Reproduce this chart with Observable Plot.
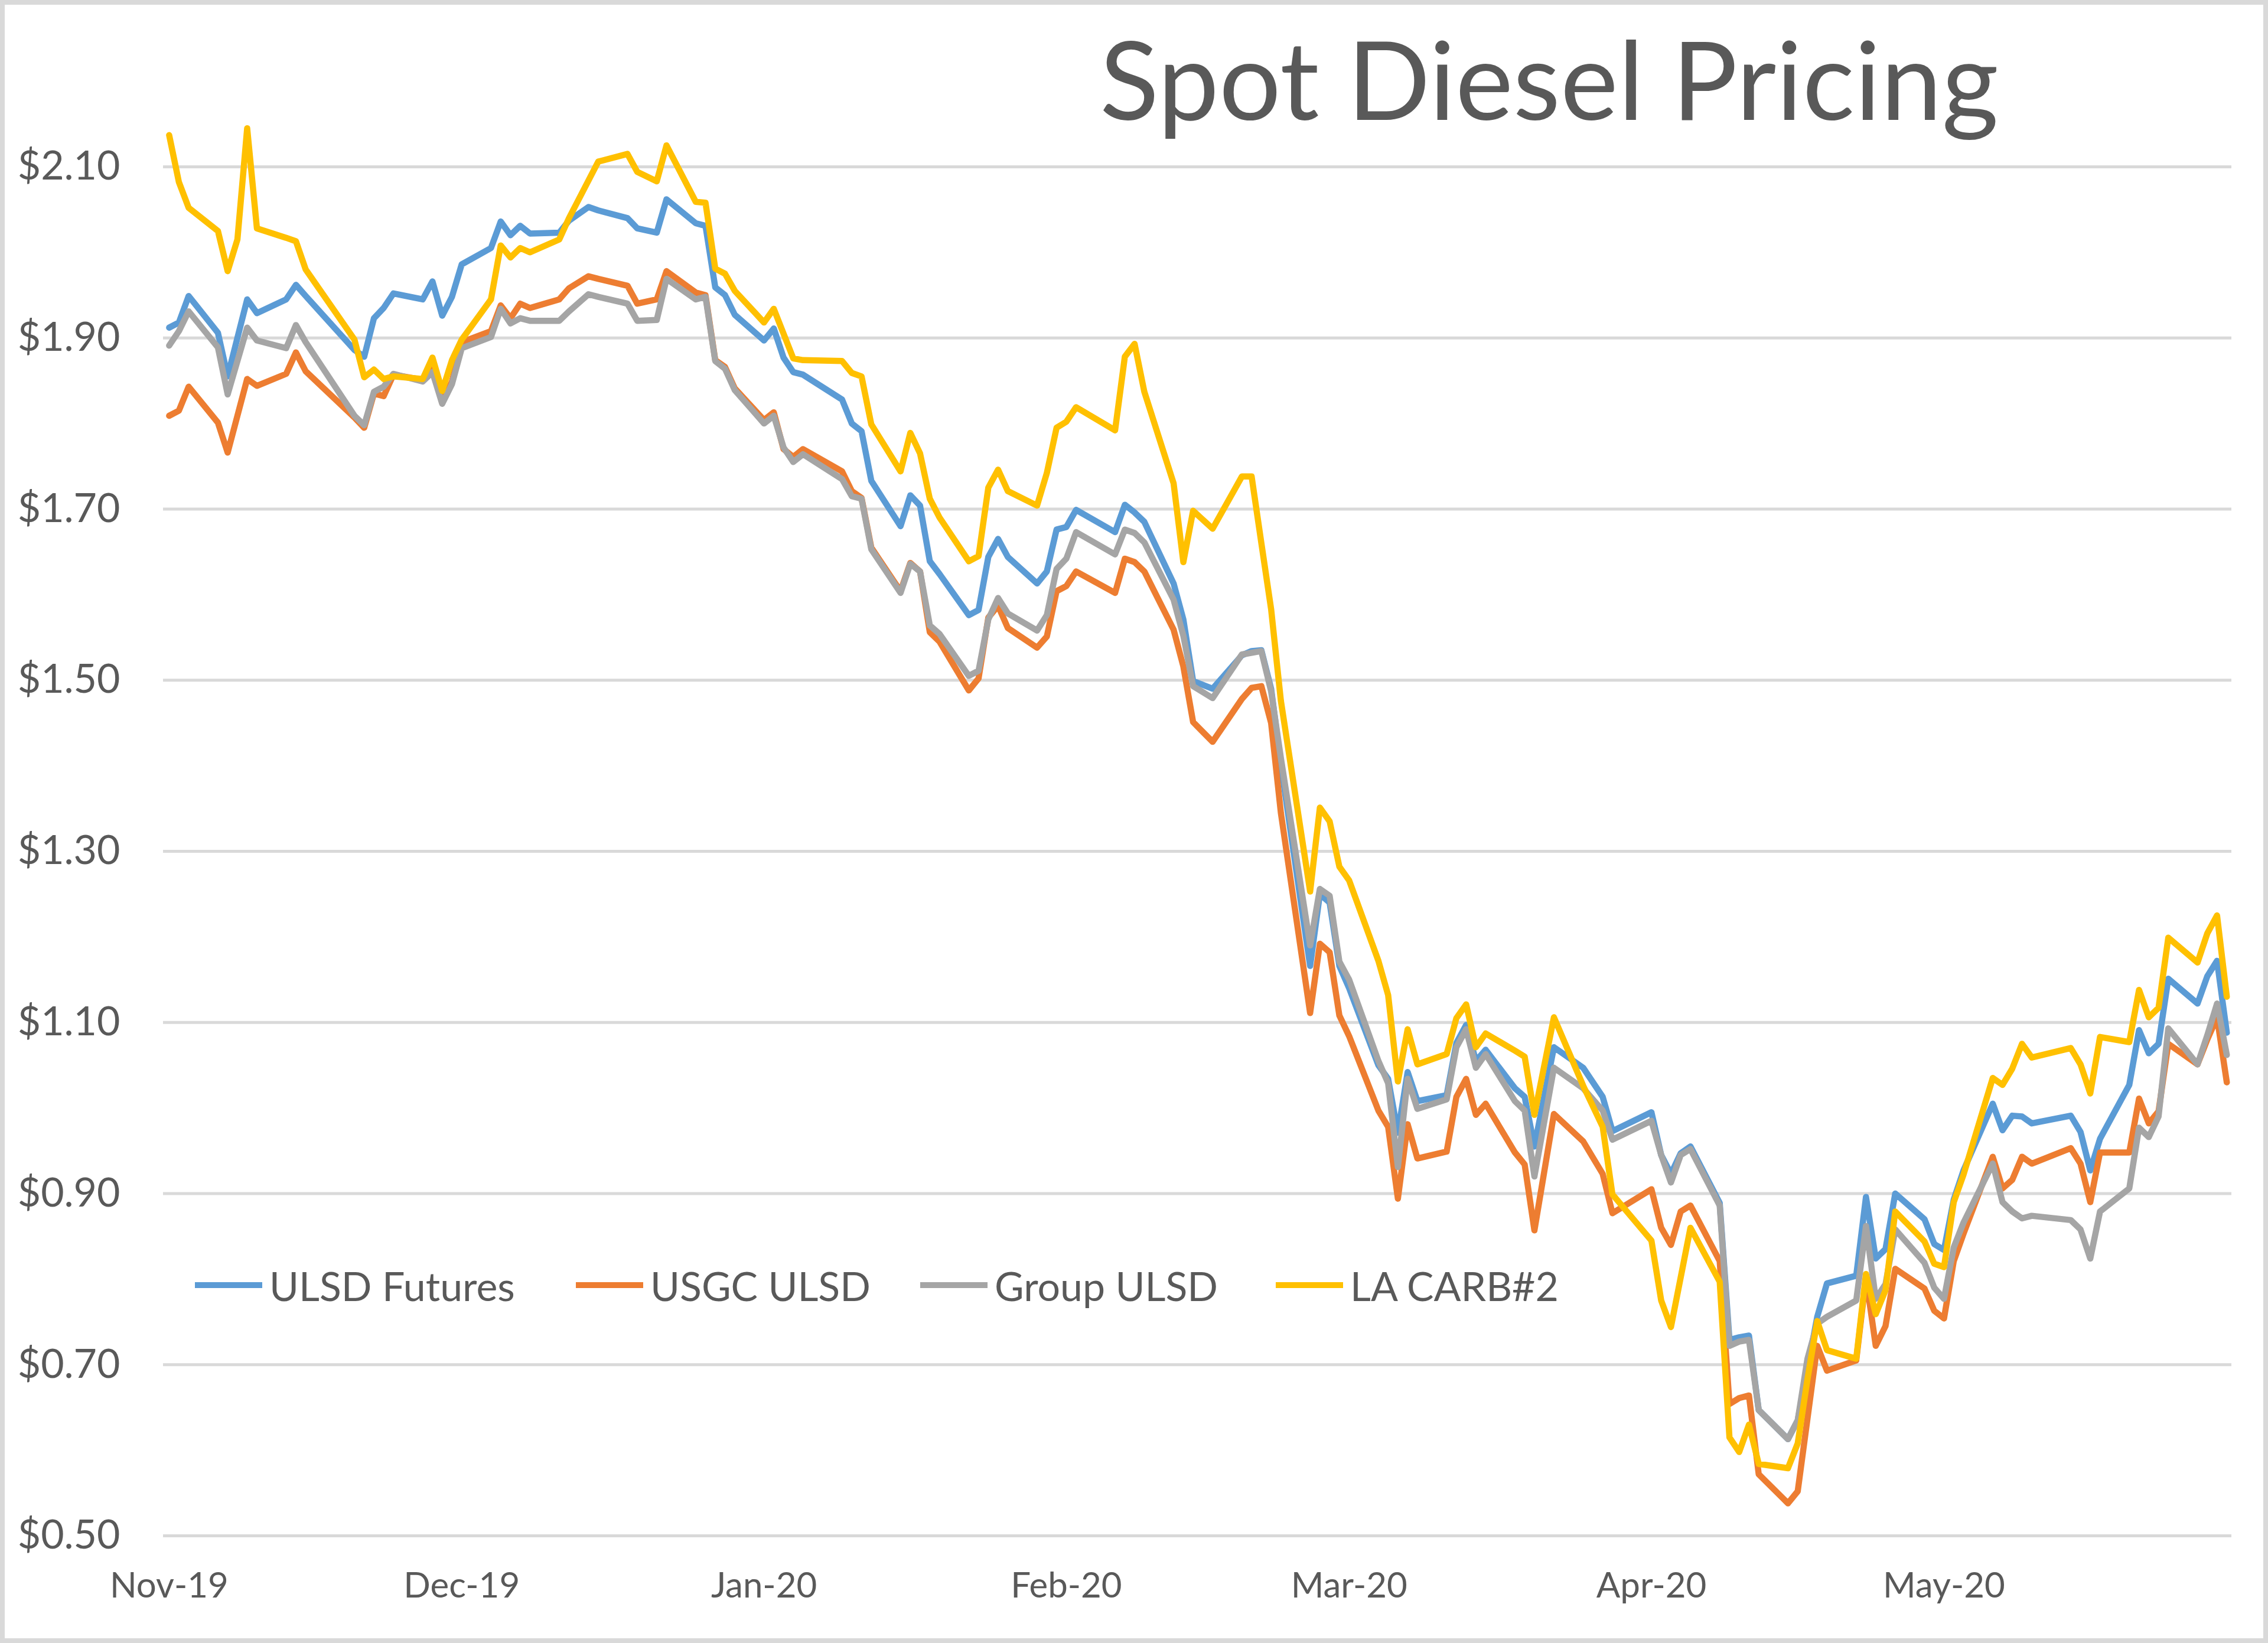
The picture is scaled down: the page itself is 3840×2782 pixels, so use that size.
<!DOCTYPE html>
<html>
<head>
<meta charset="utf-8">
<script src="https://cdn.jsdelivr.net/npm/d3@7"></script>
<script src="https://cdn.jsdelivr.net/npm/@observablehq/plot@0.6"></script>
<style>
  html, body { margin: 0; padding: 0; background: #ffffff; }
  #chart { position: relative; width: 3840px; height: 2782px; overflow: hidden; background: #ffffff; font-family: Lato, "Open Sans", sans-serif; }
  #plot { position: absolute; left: 0; top: 0; }
  #frame { position: absolute; left: 0; top: 0; width: 3840px; height: 2782px; box-sizing: border-box; border: 8px solid #d9d9d9; pointer-events: none; }
  #title { position: absolute; left: 1862px; top: 39px; font-size: 185px; line-height: 185px; color: #595959; white-space: nowrap; }
  .leg { position: absolute; top: 2136px; height: 80px; display: flex; align-items: center; font-size: 68px; color: #595959; white-space: nowrap; }
  .sw { display: inline-block; width: 114px; height: 10px; margin-right: 12px; }
</style>
</head>
<body>
<div id="chart">
  <div id="plot"></div>
  <div id="title">Spot Diesel Pricing</div>
  <div id="legend"></div>
  <div id="frame"></div>
</div>
<script>
// ---- data ----
const dates = [
  "2019-11-01","2019-11-02","2019-11-03","2019-11-06","2019-11-07","2019-11-08","2019-11-09","2019-11-10","2019-11-13","2019-11-14",
  "2019-11-15","2019-11-20","2019-11-21","2019-11-22","2019-11-23","2019-11-24","2019-11-27","2019-11-28","2019-11-29","2019-11-30",
  "2019-12-01","2019-12-04","2019-12-05","2019-12-06","2019-12-07","2019-12-08","2019-12-11","2019-12-12","2019-12-14","2019-12-15",
  "2019-12-18","2019-12-19","2019-12-21","2019-12-22","2019-12-25","2019-12-26","2019-12-27","2019-12-28","2019-12-29","2020-01-01",
  "2020-01-02","2020-01-03","2020-01-04","2020-01-05","2020-01-09","2020-01-10","2020-01-11","2020-01-12","2020-01-15","2020-01-16",
  "2020-01-17","2020-01-18","2020-01-19","2020-01-22","2020-01-23","2020-01-24","2020-01-25","2020-01-26","2020-01-29","2020-01-30",
  "2020-01-31","2020-02-01","2020-02-02","2020-02-06","2020-02-07","2020-02-08","2020-02-09","2020-02-12","2020-02-13","2020-02-14",
  "2020-02-16","2020-02-19","2020-02-20","2020-02-21","2020-02-22","2020-02-23","2020-02-26","2020-02-27","2020-02-28","2020-02-29",
  "2020-03-01","2020-03-04","2020-03-05","2020-03-06","2020-03-07","2020-03-08","2020-03-11","2020-03-12","2020-03-13","2020-03-14",
  "2020-03-15","2020-03-18","2020-03-19","2020-03-20","2020-03-22","2020-03-25","2020-03-27","2020-03-28","2020-04-01","2020-04-02",
  "2020-04-03","2020-04-04","2020-04-05","2020-04-08","2020-04-09","2020-04-10","2020-04-11","2020-04-12","2020-04-15","2020-04-16",
  "2020-04-17","2020-04-18","2020-04-19","2020-04-22","2020-04-23","2020-04-24","2020-04-25","2020-04-26","2020-04-29","2020-04-30",
  "2020-05-01","2020-05-02","2020-05-03","2020-05-06","2020-05-07","2020-05-08","2020-05-09","2020-05-10","2020-05-14","2020-05-15",
  "2020-05-16","2020-05-17","2020-05-20","2020-05-21","2020-05-22","2020-05-23","2020-05-24","2020-05-27","2020-05-28","2020-05-29",
  "2020-05-30"
];

const ulsdFutures = [
  1.912,1.918,1.949,1.906,1.855,1.900,1.945,1.929,1.945,1.962,
  1.949,1.886,1.878,1.923,1.935,1.952,1.945,1.966,1.926,1.948,
  1.986,2.005,2.036,2.020,2.031,2.022,2.023,2.037,2.053,2.049,
  2.040,2.028,2.023,2.062,2.034,2.031,1.959,1.950,1.927,1.897,
  1.911,1.877,1.860,1.857,1.828,1.800,1.791,1.733,1.680,1.716,
  1.704,1.639,1.624,1.576,1.582,1.644,1.665,1.644,1.613,1.627,
  1.676,1.679,1.699,1.673,1.705,1.696,1.685,1.613,1.571,1.499,
  1.490,1.529,1.534,1.535,1.490,1.402,1.166,1.250,1.240,1.166,
  1.140,1.050,1.034,0.971,1.042,1.008,1.015,1.076,1.097,1.055,
  1.068,1.023,1.013,0.955,1.071,1.047,1.013,0.973,0.995,0.945,
  0.923,0.947,0.955,0.889,0.729,0.732,0.734,0.647,0.613,0.635,
  0.695,0.756,0.795,0.804,0.896,0.824,0.835,0.900,0.870,0.841,
  0.834,0.893,0.927,1.005,0.974,0.991,0.990,0.982,0.991,0.972,
  0.927,0.964,1.027,1.091,1.064,1.075,1.151,1.122,1.154,1.172,
  1.088
];

const usgcUlsd = [
  1.809,1.815,1.843,1.801,1.766,1.809,1.852,1.844,1.858,1.883,
  1.861,1.807,1.795,1.835,1.832,1.857,1.851,1.863,1.824,1.849,
  1.895,1.908,1.938,1.923,1.940,1.935,1.945,1.958,1.972,1.969,
  1.961,1.940,1.945,1.978,1.953,1.950,1.874,1.866,1.841,1.804,
  1.813,1.770,1.761,1.770,1.744,1.721,1.713,1.655,1.604,1.637,
  1.627,1.556,1.545,1.488,1.502,1.573,1.587,1.561,1.538,1.551,
  1.604,1.610,1.627,1.602,1.642,1.638,1.627,1.559,1.516,1.451,
  1.428,1.478,1.491,1.493,1.450,1.345,1.111,1.192,1.182,1.108,
  1.084,0.997,0.978,0.894,0.981,0.941,0.949,1.013,1.034,0.992,
  1.005,0.948,0.934,0.857,0.993,0.961,0.923,0.877,0.905,0.860,
  0.840,0.879,0.886,0.821,0.654,0.661,0.664,0.572,0.538,0.552,
  0.637,0.722,0.693,0.705,0.802,0.722,0.745,0.812,0.789,0.763,
  0.754,0.821,0.853,0.943,0.906,0.916,0.943,0.935,0.953,0.935,
  0.890,0.948,0.948,1.011,0.982,0.996,1.075,1.051,1.080,1.106,
  1.030
];

const groupUlsd = [
  1.891,1.908,1.931,1.889,1.834,1.873,1.912,1.897,1.888,1.915,
  1.895,1.809,1.798,1.837,1.843,1.858,1.849,1.860,1.823,1.846,
  1.888,1.901,1.934,1.917,1.923,1.920,1.920,1.931,1.951,1.948,
  1.940,1.920,1.921,1.969,1.945,1.948,1.873,1.864,1.839,1.800,
  1.809,1.772,1.755,1.764,1.735,1.715,1.712,1.653,1.602,1.636,
  1.627,1.564,1.554,1.505,1.511,1.571,1.596,1.578,1.558,1.576,
  1.630,1.642,1.673,1.647,1.676,1.672,1.661,1.594,1.552,1.493,
  1.479,1.530,1.532,1.534,1.487,1.409,1.190,1.256,1.248,1.171,
  1.150,1.055,1.029,0.931,1.034,0.999,1.010,1.071,1.092,1.047,
  1.063,1.008,0.997,0.920,1.047,1.023,0.997,0.963,0.985,0.945,
  0.913,0.945,0.952,0.886,0.722,0.727,0.729,0.647,0.613,0.635,
  0.707,0.748,0.756,0.775,0.862,0.777,0.794,0.858,0.819,0.790,
  0.777,0.837,0.866,0.935,0.890,0.879,0.871,0.874,0.869,0.858,
  0.824,0.879,0.906,0.977,0.966,0.990,1.093,1.051,1.085,1.122,
  1.062
];

const laCarb2 = [
  2.137,2.082,2.052,2.025,1.978,2.015,2.145,2.028,2.017,2.013,
  1.980,1.898,1.854,1.863,1.852,1.855,1.852,1.877,1.838,1.874,
  1.898,1.945,2.008,1.994,2.005,2.000,2.015,2.040,2.084,2.106,
  2.115,2.094,2.083,2.125,2.059,2.058,1.981,1.975,1.955,1.918,
  1.934,1.905,1.876,1.874,1.873,1.859,1.855,1.799,1.744,1.789,
  1.765,1.712,1.690,1.639,1.645,1.725,1.746,1.721,1.704,1.742,
  1.795,1.802,1.819,1.792,1.878,1.893,1.837,1.730,1.638,1.698,
  1.677,1.738,1.738,1.660,1.583,1.476,1.253,1.351,1.335,1.282,
  1.266,1.172,1.132,1.031,1.092,1.051,1.063,1.105,1.121,1.071,
  1.087,1.067,1.060,0.992,1.106,1.026,0.978,0.899,0.845,0.775,
  0.744,0.802,0.860,0.797,0.615,0.598,0.630,0.584,0.579,0.608,
  0.683,0.751,0.717,0.707,0.806,0.759,0.787,0.879,0.844,0.818,
  0.814,0.890,0.922,1.035,1.027,1.046,1.075,1.059,1.070,1.051,
  1.017,1.083,1.077,1.138,1.106,1.117,1.199,1.170,1.204,1.225,
  1.130
];

const seriesNames = ["ULSD Futures", "USGC ULSD", "Group ULSD", "LA CARB#2"];
const seriesColors = ["#5B9BD5", "#ED7D31", "#A5A5A5", "#FFC000"];
const yTicks = [0.5, 0.7, 0.9, 1.1, 1.3, 1.5, 1.7, 1.9, 2.1];
const xTickDates = ["2019-11-01", "2019-12-01", "2020-01-01", "2020-02-01", "2020-03-01", "2020-04-01", "2020-05-01"];
const xTickLabels = ["Nov-19", "Dec-19", "Jan-20", "Feb-20", "Mar-20", "Apr-20", "May-20"];

// ---- build ----
const parse = d3.utcParse("%Y-%m-%d");
const seriesValues = [ulsdFutures, usgcUlsd, groupUlsd, laCarb2];
const rows = seriesNames.flatMap((name, i) =>
  dates.map((d, j) => ({date: parse(d), value: seriesValues[i][j], series: name}))
);
const xTicks = xTickDates.map(parse);
const labelByTime = new Map(xTicks.map((d, i) => [+d, xTickLabels[i]]));
const DAY = 864e5;
const firstDate = parse(dates[0]);
const lastDate = parse(dates[dates.length - 1]);

const chart = Plot.plot({
  width: 3840,
  height: 2782,
  marginLeft: 276,
  marginRight: 62,
  marginTop: 137,
  marginBottom: 182,
  style: {fontFamily: "Lato, 'Open Sans', sans-serif", background: "transparent", maxWidth: "none", overflow: "visible"},
  x: {type: "utc", domain: [new Date(+firstDate - 0.6 * DAY), new Date(+lastDate + 0.5 * DAY)]},
  y: {domain: [0.5, 2.2]},
  color: {domain: seriesNames, range: seriesColors},
  marks: [
    Plot.gridY(yTicks, {stroke: "#d9d9d9", strokeOpacity: 1, strokeWidth: 5}),
    Plot.axisY(yTicks, {tickSize: 0, tickPadding: 73, tickFormat: d3.format("$.2f"), fontSize: 68, fill: "#595959", label: null}),
    Plot.axisX(xTicks, {tickSize: 0, tickPadding: 62, tickFormat: d => labelByTime.get(+d), fontSize: 60, fill: "#595959", label: null}),
    Plot.line(rows, {x: "date", y: "value", z: "series", stroke: "series", strokeWidth: 10.5, strokeLinejoin: "round", strokeLinecap: "round"})
  ]
});
document.getElementById("plot").appendChild(chart);

// legend (HTML, laid over the plot area like the original)
const legendLefts = [330, 975, 1558, 2160];
const legend = document.getElementById("legend");
seriesNames.forEach((name, i) => {
  const item = document.createElement("div");
  item.className = "leg";
  item.style.left = legendLefts[i] + "px";
  const sw = document.createElement("span");
  sw.className = "sw";
  sw.style.background = seriesColors[i];
  const tx = document.createElement("span");
  tx.textContent = name;
  item.appendChild(sw);
  item.appendChild(tx);
  legend.appendChild(item);
});
</script>
</body>
</html>
